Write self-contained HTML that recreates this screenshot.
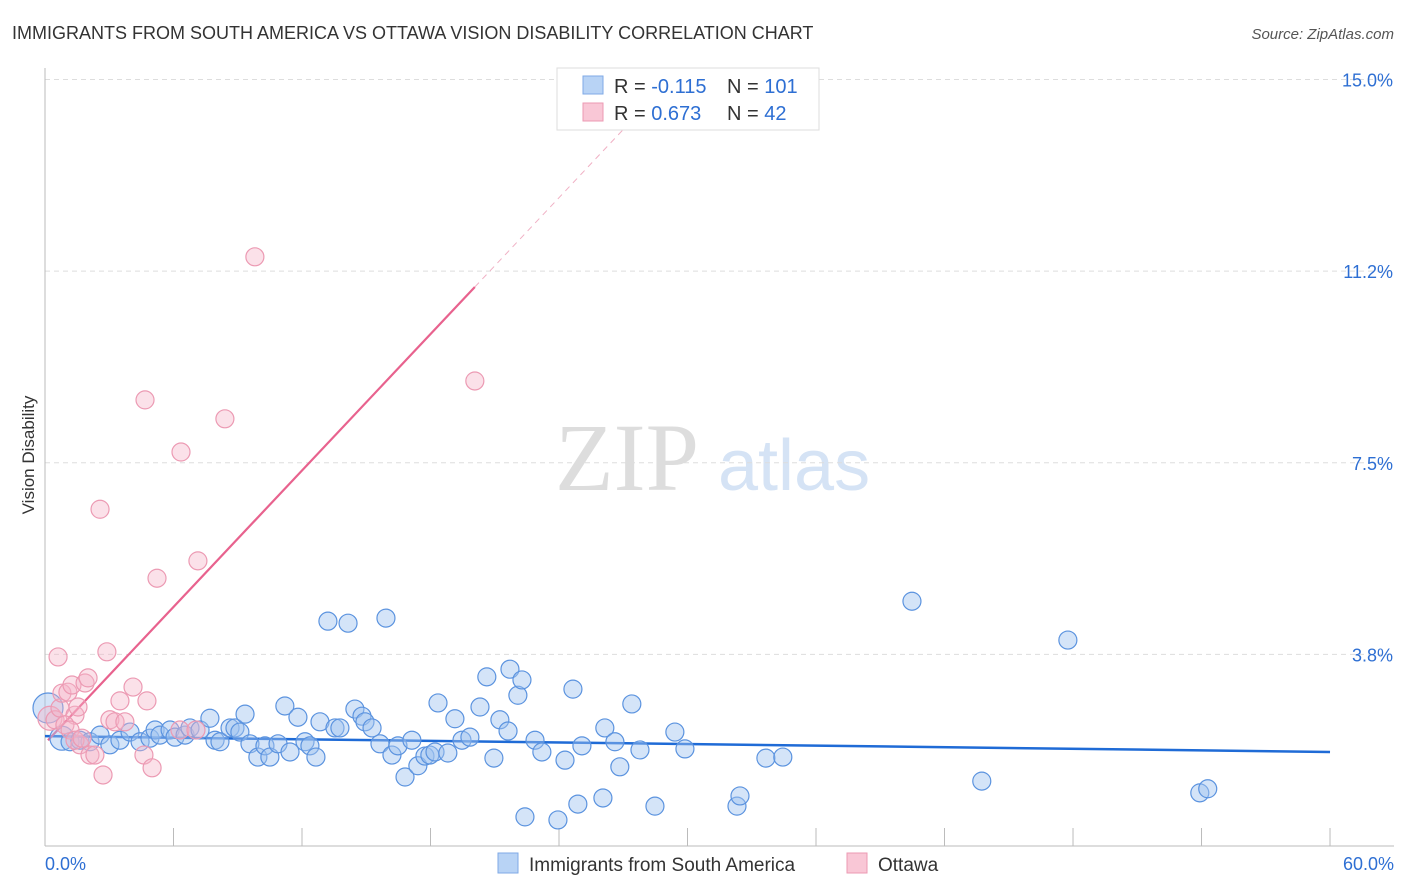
<!DOCTYPE html>
<html><head><meta charset="utf-8"><style>
body{margin:0;background:#fff;font-family:"Liberation Sans",sans-serif;}
svg{display:block}
</style></head><body>
<svg id="chart" width="1406" height="892" xmlns="http://www.w3.org/2000/svg">
<text x="12" y="39" font-size="18" fill="#333">IMMIGRANTS FROM SOUTH AMERICA VS OTTAWA VISION DISABILITY CORRELATION CHART</text>
<text x="1394" y="39" font-size="15" fill="#555" font-style="italic" text-anchor="end">Source: ZipAtlas.com</text>
<g>
<text x="555" y="490" font-size="96" fill="#ddd" font-family="Liberation Serif,serif">ZIP</text>
<text x="718" y="490" font-size="72" fill="#d5e3f5">atlas</text>
</g>
<text transform="translate(34,455) rotate(-90)" font-size="17" fill="#333" text-anchor="middle">Vision Disability</text>
<g id="grid"></g><g id="axes"></g><g id="trend"></g><g id="points"></g>
<g>
<rect x="557" y="68" width="262" height="62" fill="#fff" stroke="#ddd"/>
<rect x="583" y="76" width="20" height="18" fill="#b8d3f5" stroke="#7faae6"/>
<rect x="583" y="103" width="20" height="18" fill="#f9c7d6" stroke="#ec9ab3"/>
<text x="614" y="93" font-size="20" fill="#333">R = <tspan fill="#2e6fd3">-0.115</tspan><tspan x="727">N = </tspan><tspan fill="#2e6fd3">101</tspan></text>
<text x="614" y="120" font-size="20" fill="#333">R = <tspan fill="#2e6fd3"> 0.673</tspan><tspan x="727">N = </tspan><tspan fill="#2e6fd3">  42</tspan></text>
</g>
<g>
<rect x="498" y="853" width="20" height="20" fill="#b8d3f5" stroke="#7faae6"/>
<text x="529" y="871" font-size="19" fill="#333">Immigrants from South America</text>
<rect x="847" y="853" width="20" height="20" fill="#f9c7d6" stroke="#ec9ab3"/>
<text x="878" y="871" font-size="19" fill="#333">Ottawa</text>
</g>
</svg>
<script>
const blueX=[0.14,0.79,1.17,1.63,2.10,2.57,3.03,3.50,3.97,4.44,4.90,5.14,5.37,5.84,6.07,6.54,6.77,7.24,7.70,7.94,8.17,8.64,8.87,9.10,9.34,9.57,9.94,10.27,10.50,10.88,11.20,11.44,11.81,12.14,12.37,12.65,12.84,13.21,13.54,13.77,14.15,14.47,14.80,14.94,15.27,15.64,15.92,16.20,16.48,16.81,17.13,17.41,17.74,17.97,18.21,18.35,18.81,19.14,19.47,19.84,20.31,20.63,20.96,21.24,21.62,21.71,22.08,22.27,22.41,22.88,23.20,23.95,24.28,24.65,24.88,25.07,26.05,26.14,26.61,26.84,27.40,27.78,28.48,29.41,29.88,32.31,32.45,33.66,34.45,40.48,43.74,47.76,53.92,54.29];
const blueY=[2.70,2.11,2.04,2.07,2.04,2.17,1.98,2.07,2.23,2.04,2.11,2.27,2.17,2.27,2.13,2.17,2.31,2.27,2.50,2.07,2.04,2.31,2.31,2.23,2.58,2.00,1.74,1.96,1.74,2.00,2.74,1.84,2.52,2.04,1.96,1.74,2.43,4.40,2.31,2.31,4.36,2.68,2.54,2.43,2.31,2.00,4.46,1.78,1.96,1.35,2.07,1.57,1.76,1.78,1.84,2.80,1.82,2.49,2.07,2.13,2.72,3.31,1.72,2.47,2.25,3.46,2.95,3.25,0.57,2.07,1.84,0.51,1.68,3.07,0.82,1.96,0.94,2.31,2.04,1.55,2.78,1.88,0.78,2.23,1.90,0.78,0.98,1.72,1.74,4.79,1.27,4.03,1.04,1.12];
const pinkX=[0.23,0.47,0.61,0.70,0.79,1.07,1.26,1.40,1.54,1.63,1.87,2.01,2.10,2.33,2.57,2.71,2.89,3.03,3.27,3.50,3.73,4.11,4.62,4.67,4.76,5.00,5.23,6.30,6.35,7.05,7.14,8.40,9.80,20.07,0.93,1.17,1.40,1.73];
const pinkY=[2.50,2.47,3.70,2.70,2.99,3.01,3.15,2.56,2.72,1.98,3.19,3.29,1.78,1.78,6.59,1.39,3.80,2.47,2.43,2.84,2.43,3.11,1.78,8.73,2.84,1.53,5.24,2.27,7.71,2.27,5.58,8.36,11.53,9.10,2.37,2.27,2.07,2.11];
const blueTrend=[[0,2.15],[60,1.84]];
const pinkTrend=[[0.14,2.07],[20.07,10.94]];
const pinkTrendExt=[[20.07,10.94],[29.2,15.0]];
const yTicks=[3.75,7.5,11.25,15];
const yTickLabels=["3.8%","7.5%","11.2%","15.0%"];
const xTicks=[0,6,12,18,24,30,36,42,48,54,60];
const xLabels=[[0,"0.0%"],[60,"60.0%"]];

const NS="http://www.w3.org/2000/svg";
const X=v=>45+v*21.417, Y=v=>846-v*51.1;
function mk(tag,attrs,parent){const e=document.createElementNS(NS,tag);for(const k in attrs)e.setAttribute(k,attrs[k]);parent.appendChild(e);return e;}
const grid=document.getElementById('grid'),axes=document.getElementById('axes'),tr=document.getElementById('trend'),pts=document.getElementById('points');
yTicks.forEach((t,i)=>{
 const l=mk('line',{x1:45,x2:1394,y1:Y(t),y2:Y(t),stroke:'#ddd','stroke-dasharray':'5,4'},grid);
 
 
 const tx=mk('text',{x:1393,y:Y(t)+7,'font-size':18,fill:'#2e6fd3','text-anchor':'end'},grid);
 tx.textContent=yTickLabels[i];
 
 
});
const la=mk('line',{x1:45,x2:45,y1:68,y2:846,stroke:'#bbb'},axes);


const ba=mk('line',{x1:45,x2:1394,y1:846,y2:846,stroke:'#bbb'},axes);


xTicks.forEach(t=>{
 const l=mk('line',{x1:X(t),x2:X(t),y1:828,y2:846,stroke:'#bbb'},axes);
 
 
});
xLabels.forEach(([v,s],i)=>{
 const tx=mk('text',{x:i==0?X(v):1394,y:870,'font-size':18,fill:'#2e6fd3','text-anchor':i==0?'start':'end'},axes);
 tx.textContent=s;
 
 
});
blueX.forEach((x,i)=>{
 const c=mk('circle',{cx:X(x),cy:Y(blueY[i]),r:i<2?(i==0?15:12):9,fill:'rgba(160,196,240,0.45)',stroke:'#5b93df','stroke-width':1.2},pts);
 
 
});
pinkX.forEach((x,i)=>{
 const c=mk('circle',{cx:X(x),cy:Y(pinkY[i]),r:i==0?12:9,fill:'rgba(246,180,200,0.4)',stroke:'#ec9ab3','stroke-width':1.2},pts);
 
 
});
const bt=mk('line',{x1:X(blueTrend[0][0]),y1:Y(blueTrend[0][1]),x2:X(blueTrend[1][0]),y2:Y(blueTrend[1][1]),stroke:'#1f6bd6','stroke-width':2.5},tr);


const pt=mk('line',{x1:X(pinkTrend[0][0]),y1:Y(pinkTrend[0][1]),x2:X(pinkTrend[1][0]),y2:Y(pinkTrend[1][1]),stroke:'#e8628e','stroke-width':2.2},tr);


const pe=mk('line',{x1:X(pinkTrendExt[0][0]),y1:Y(pinkTrendExt[0][1]),x2:X(pinkTrendExt[1][0]),y2:Y(pinkTrendExt[1][1]),stroke:'#f0b0c4','stroke-width':1,'stroke-dasharray':'6,5'},tr);


</script>
</body></html>
